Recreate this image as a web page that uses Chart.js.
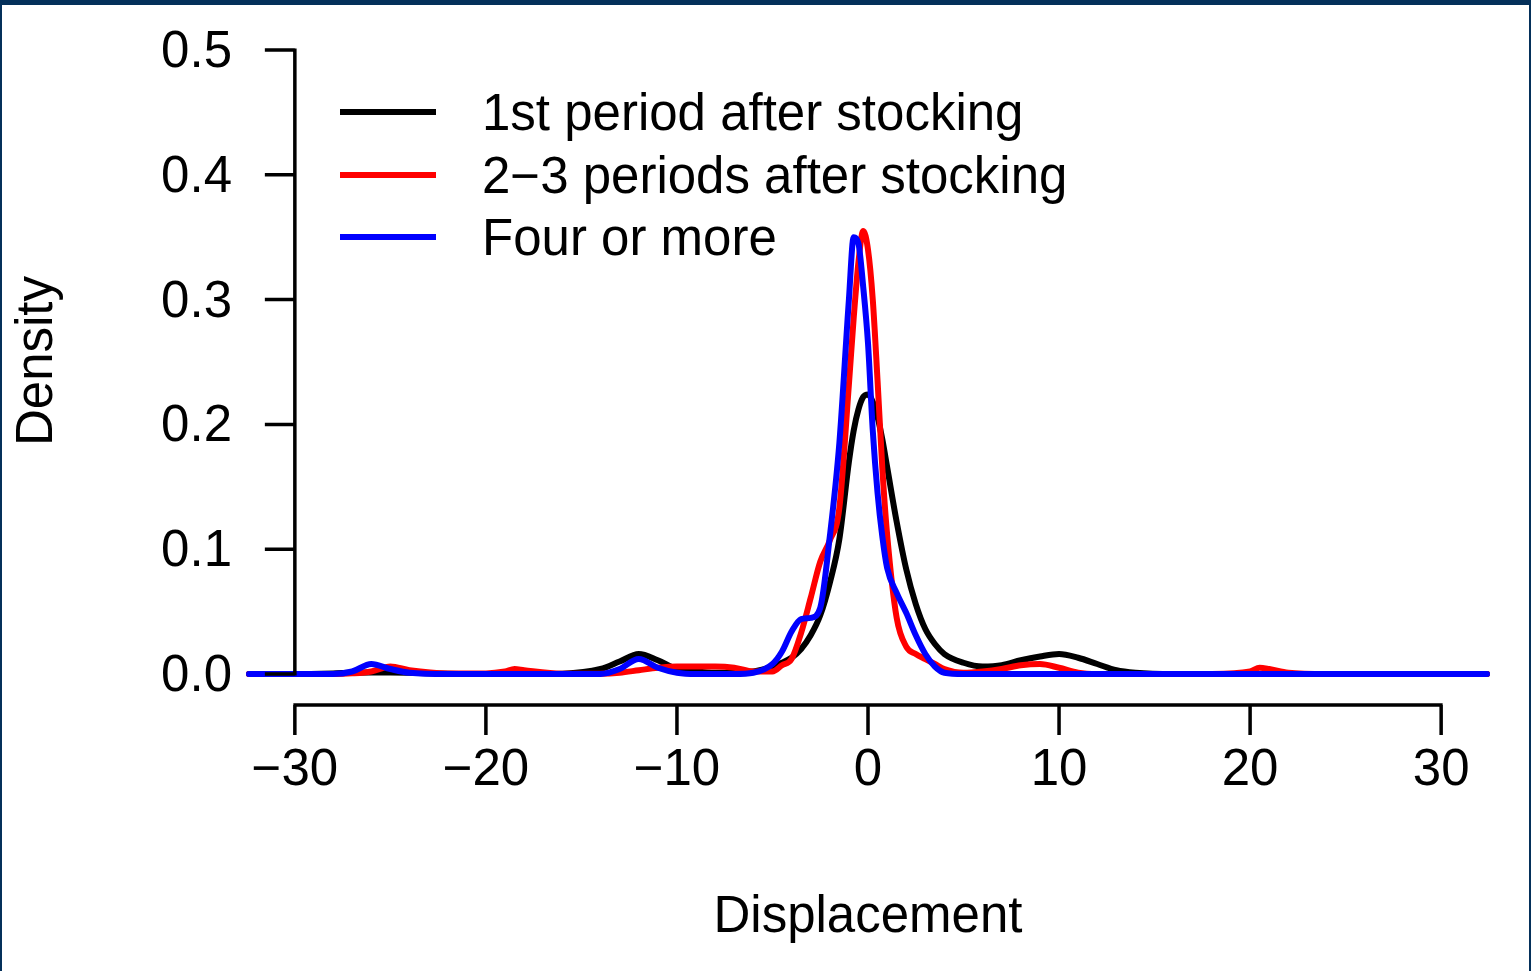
<!DOCTYPE html>
<html>
<head>
<meta charset="utf-8">
<script src="https://cdn.jsdelivr.net/npm/chart.js@4"></script>
<style>
  html, body { margin: 0; padding: 0; background: #fff; }
  canvas { display: block; }
</style>
</head>
<body>
<canvas id="densityChart" width="1531" height="971"></canvas>
<script>
// displacement grid (x) and density
const displacement = [-32.4, -30, -28, -27, -26, -25, -24, -22, -20, -19, -18.5, -18, -16, -14, -13, -12, -11, -10, -9, -8, -7, -6, -5, -4.5, -4, -3.5, -3, -2.5, -2, -1.5, -1, -0.75, -0.5, -0.25, 0, 0.25, 0.5, 0.75, 1, 1.5, 2, 2.5, 3, 3.5, 4, 5, 6, 7, 8, 9, 10, 11, 12, 13, 14, 16, 18, 20, 20.5, 21, 22, 24, 28, 32.4];

const firstPeriod = [0, 0, 0.0005, 0.001, 0.0012, 0.0012, 0.001, 0.0003, 0, 0, 0, 0, 0.0003, 0.004, 0.010, 0.016, 0.011, 0.004, 0.002, 0.001, 0.001, 0.002, 0.006, 0.009, 0.013, 0.02, 0.031, 0.047, 0.073, 0.108, 0.17, 0.195, 0.212, 0.222, 0.224, 0.218, 0.206, 0.188, 0.166, 0.122, 0.084, 0.056, 0.036, 0.024, 0.016, 0.009, 0.006, 0.007, 0.011, 0.014, 0.016, 0.013, 0.008, 0.003, 0.001, 0, 0, 0, 0, 0, 0, 0, 0, 0];

const twoThreePeriods = [0, 0, 0, 0.0005, 0.002, 0.006, 0.003, 0.0005, 0.0005, 0.002, 0.004, 0.003, 0.0003, 0.0003, 0.001, 0.003, 0.005, 0.006, 0.006, 0.006, 0.005, 0.002, 0.002, 0.007, 0.012, 0.033, 0.061, 0.09, 0.107, 0.133, 0.232, 0.285, 0.33, 0.355, 0.34, 0.3, 0.235, 0.165, 0.112, 0.045, 0.022, 0.016, 0.012, 0.008, 0.004, 0.001, 0.002, 0.004, 0.007, 0.008, 0.005, 0.001, 0, 0, 0, 0, 0, 0.002, 0.005, 0.004, 0.001, 0, 0, 0];

const fourOrMore = [0, 0, 0, 0.002, 0.008, 0.004, 0.001, 0, 0, 0, 0, 0, 0, 0, 0.004, 0.012, 0.005, 0.001, 0, 0, 0, 0.001, 0.008, 0.018, 0.034, 0.044, 0.045, 0.053, 0.11, 0.185, 0.3, 0.35, 0.345, 0.31, 0.265, 0.195, 0.145, 0.11, 0.085, 0.065, 0.049, 0.031, 0.016, 0.006, 0.001, 0, 0, 0, 0, 0, 0, 0, 0, 0, 0, 0, 0, 0, 0, 0, 0, 0, 0, 0];

const seriesLabels = ['1st period after stocking', '2\u22123 periods after stocking', 'Four or more'];
const seriesColors = ['#000000', '#ff0000', '#0000ff'];

const xTicks = [-30, -20, -10, 0, 10, 20, 30];
const yTicks = [0, 0.1, 0.2, 0.3, 0.4, 0.5];

const FONT = '51px "Liberation Sans", Arial, Helvetica, sans-serif';
const LINE_W = 6;

function toPoints(ys) {
  return displacement.map((x, i) => ({ x: x, y: ys[i] }));
}

function fmtTick(v) {
  return String(v).replace('-', '\u2212');
}

// R-style frame, axes, labels and legend
const baseAxes = {
  id: 'baseAxes',
  beforeDraw(chart) {
    const c = chart.ctx;
    c.save();
    c.fillStyle = '#ffffff';
    c.fillRect(0, 0, chart.width, chart.height);
    c.fillStyle = '#04305a';
    c.fillRect(0, 0, chart.width, 5);
    c.fillRect(0, 0, 2, chart.height);
    c.fillRect(chart.width - 2, 0, 2, chart.height);
    c.restore();
  },
  afterDraw(chart) {
    const c = chart.ctx;
    const xs = chart.scales.x;
    const ys = chart.scales.y;
    const x0 = xs.getPixelForValue(xTicks[0]);
    const x1 = xs.getPixelForValue(xTicks[xTicks.length - 1]);
    const yAxisX = x0;
    const xAxisY = ys.getPixelForValue(0) + 31;

    c.save();
    c.strokeStyle = '#000';
    c.lineWidth = 3.5;
    c.lineCap = 'butt';

    // x axis
    c.beginPath();
    c.moveTo(x0 - 1.5, xAxisY);
    c.lineTo(x1 + 1.5, xAxisY);
    xTicks.forEach(v => {
      const px = xs.getPixelForValue(v);
      c.moveTo(px, xAxisY);
      c.lineTo(px, xAxisY + 30);
    });
    c.stroke();

    // y axis
    c.beginPath();
    c.moveTo(yAxisX, ys.getPixelForValue(yTicks[0]) + 1.5);
    c.lineTo(yAxisX, ys.getPixelForValue(yTicks[yTicks.length - 1]) - 1.5);
    yTicks.forEach(v => {
      const py = ys.getPixelForValue(v);
      c.moveTo(yAxisX - 30, py);
      c.lineTo(yAxisX, py);
    });
    c.stroke();

    c.fillStyle = '#000';
    c.font = FONT;
    c.textBaseline = 'middle';

    c.textAlign = 'center';
    xTicks.forEach(v => {
      c.fillText(fmtTick(v), xs.getPixelForValue(v), 771);
    });
    c.textAlign = 'right';
    yTicks.forEach(v => {
      c.fillText(v.toFixed(1), 232, ys.getPixelForValue(v) + 3);
    });

    // axis titles
    c.textAlign = 'center';
    c.fillText('Displacement', xs.getPixelForValue(0), 918);
    c.save();
    c.translate(38, 361);
    c.rotate(-Math.PI / 2);
    c.fillText('Density', 0, 0);
    c.restore();

    // legend
    const legendY = [112, 175, 237];
    c.lineWidth = LINE_W;
    c.textAlign = 'left';
    seriesLabels.forEach((lab, i) => {
      c.strokeStyle = seriesColors[i];
      c.beginPath();
      c.moveTo(340, legendY[i]);
      c.lineTo(436, legendY[i]);
      c.stroke();
      c.fillText(lab, 482, legendY[i] + 4);
    });
    c.restore();
  }
};

new Chart(document.getElementById('densityChart'), {
  type: 'line',
  data: {
    datasets: [
      { label: seriesLabels[0], data: toPoints(firstPeriod), borderColor: seriesColors[0], borderWidth: LINE_W, order: 3 },
      { label: seriesLabels[1], data: toPoints(twoThreePeriods), borderColor: seriesColors[1], borderWidth: LINE_W, order: 2 },
      { label: seriesLabels[2], data: toPoints(fourOrMore), borderColor: seriesColors[2], borderWidth: LINE_W, order: 1 }
    ]
  },
  options: {
    responsive: false,
    animation: false,
    devicePixelRatio: 1,
    layout: { padding: { left: 249, right: 44, top: 50, bottom: 297 } },
    elements: {
      line: { borderWidth: LINE_W, cubicInterpolationMode: 'monotone', fill: false, borderJoinStyle: 'round', borderCapStyle: 'round' },
      point: { radius: 0, hoverRadius: 0 }
    },
    datasets: { line: { clip: false } },
    scales: {
      x: { type: 'linear', min: -32.4, max: 32.4, display: false },
      y: { type: 'linear', min: 0, max: 0.5, display: false }
    },
    plugins: {
      legend: { display: false },
      tooltip: { enabled: false }
    }
  },
  plugins: [baseAxes]
});
</script>
</body>
</html>
